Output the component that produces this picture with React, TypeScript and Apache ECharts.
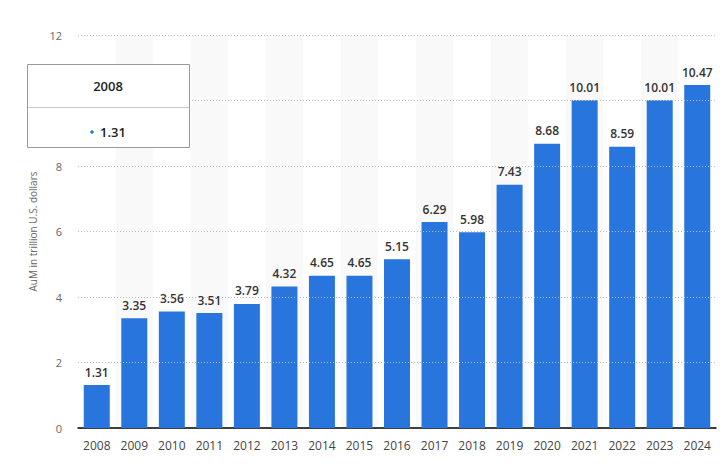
import React, { useEffect, useRef } from "react";
import * as echarts from "echarts";

const years = ["2008","2009","2010","2011","2012","2013","2014","2015","2016","2017","2018","2019","2020","2021","2022","2023","2024"];
const aum = [1.31,3.35,3.56,3.51,3.79,4.32,4.65,4.65,5.15,6.29,5.98,7.43,8.68,10.01,8.59,10.01,10.47];
const yTicks = [0, 2, 4, 6, 8, 10, 12];
const tipYear = years[0];
const tipValue = aum[0];

export default function App() {
  const ref = useRef<HTMLDivElement>(null);
  useEffect(() => {
    document.body.style.margin = "0";
    const chart = echarts.init(ref.current!, null, { renderer: "svg" });
    const font = "'Open Sans', 'Noto Sans', sans-serif";
    chart.setOption({
      animation: false,
      textStyle: { fontFamily: font },
      grid: { left: 78, right: 10, top: 35, bottom: 40, containLabel: false },
      xAxis: {
        type: "category",
        data: years,
        axisLine: { lineStyle: { color: "#000", width: 1.5 } },
        axisTick: { show: false },
        axisLabel: { color: "#444", fontSize: 12, margin: 11, fontFamily: font },
        splitArea: { show: true, areaStyle: { color: ["rgba(0,0,0,0)", "#f9f9f9"] } },
      },
      yAxis: {
        type: "value",
        min: yTicks[0],
        max: yTicks[yTicks.length - 1],
        interval: 2,
        name: "AuM in trillion U.S. dollars",
        nameLocation: "middle",
        nameGap: 40,
        nameTextStyle: { color: "#666", fontSize: 10, fontFamily: font },
        axisLine: { show: false },
        axisTick: { show: false },
        axisLabel: { color: "#666", fontSize: 11, margin: 16, fontFamily: font },
        splitLine: { show: false },
      },
      series: [
        {
          type: "line",
          data: [],
          z: 1,
          silent: true,
          markLine: {
            silent: true,
            symbol: "none",
            label: { show: false },
            lineStyle: { color: "#bdbdbd", type: [1, 2], width: 1 },
            emphasis: { disabled: true },
            data: yTicks.slice(1).map((v) => ({ yAxis: v })),
          },
        },
        {
          type: "bar",
          data: aum,
          barWidth: 26,
          z: 3,
          itemStyle: { color: "#2876dd" },
          label: {
            show: true,
            position: "top",
            distance: 7,
            color: "#333",
            fontSize: 12,
            fontWeight: 600,
            fontFamily: font,
            formatter: (p: any) => p.value.toFixed(2),
          },
        },
      ],
      graphic: [
        {
          type: "rect",
          shape: { x: 27.5, y: 64.5, width: 162, height: 83 },
          style: { fill: "#fff", stroke: "#9a9a9a", lineWidth: 1 },
          z: 100,
        },
        {
          type: "line",
          shape: { x1: 28, y1: 107.5, x2: 189, y2: 107.5 },
          style: { stroke: "#c8c8c8", lineWidth: 1 },
          z: 101,
        },
        {
          type: "text",
          x: 108,
          y: 86,
          style: { text: tipYear, fill: "#222", fontSize: 13, fontWeight: 600, fontFamily: font, align: "center", verticalAlign: "middle" },
          z: 101,
        },
        {
          type: "circle",
          shape: { cx: 92, cy: 132, r: 1.8 },
          style: { fill: "#2876dd" },
          z: 101,
        },
        {
          type: "text",
          x: 100,
          y: 132,
          style: { text: tipValue.toFixed(2), fill: "#222", fontSize: 13, fontWeight: 600, fontFamily: font, align: "left", verticalAlign: "middle" },
          z: 101,
        },
      ],
    });
    return () => chart.dispose();
  }, []);
  return <div ref={ref} style={{ position: "absolute", left: 0, top: 0, width: 726, height: 468 }} />;
}
